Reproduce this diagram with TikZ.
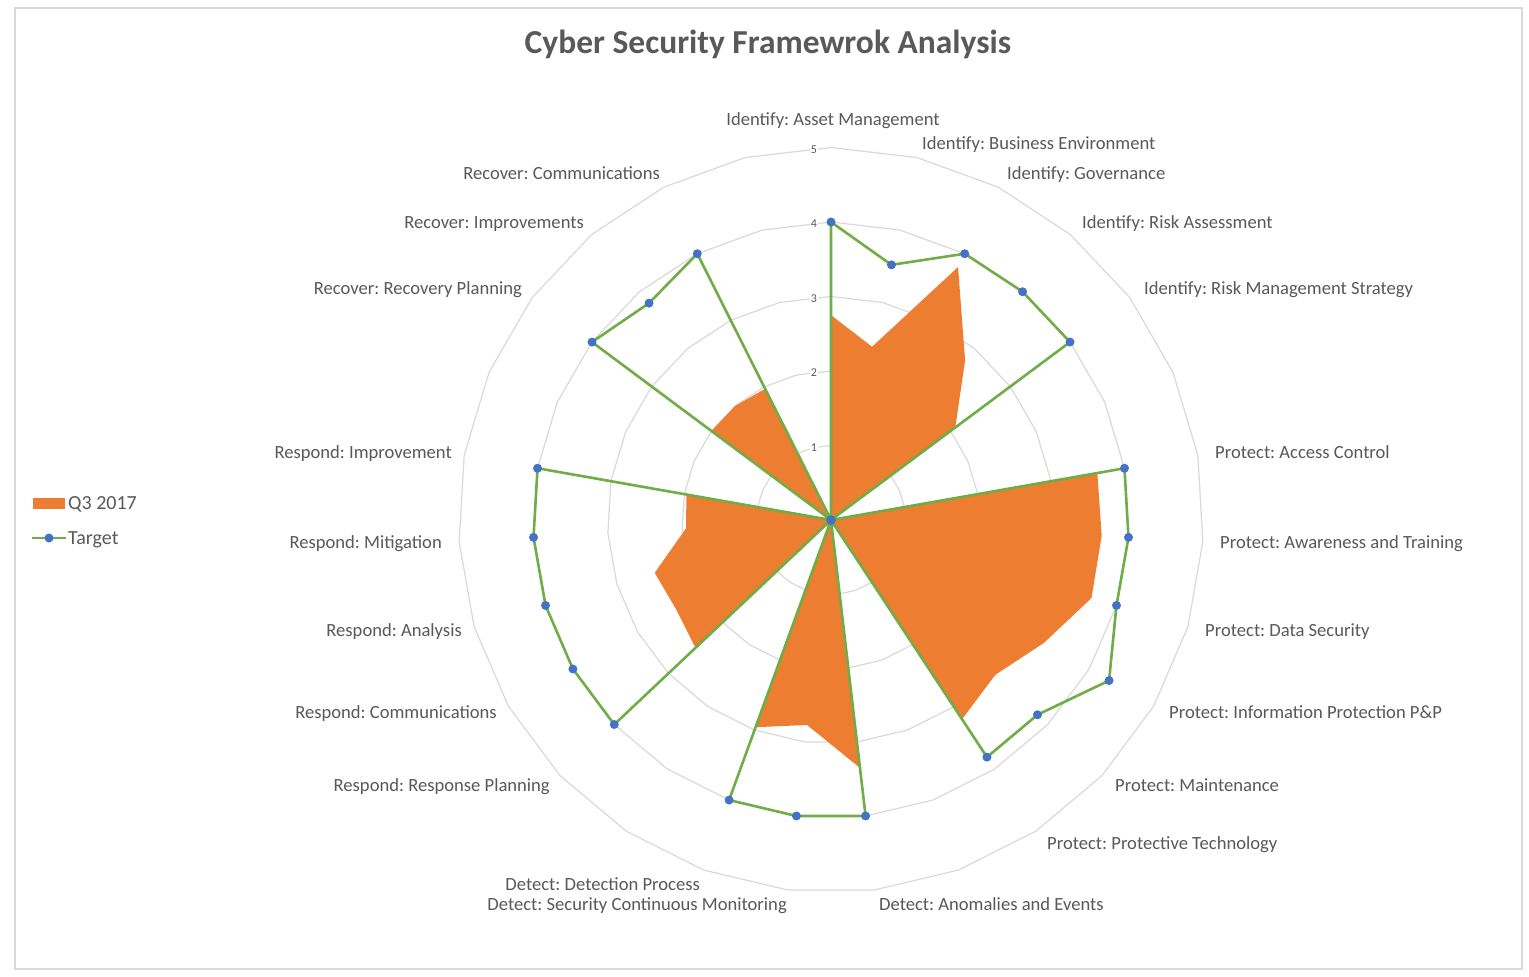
\documentclass[tikz,border=0pt]{standalone}
\usepackage{fontspec}
\setmainfont{Carlito}
\frenchspacing
\definecolor{gridc}{HTML}{D9D9D9}
\definecolor{txtc}{HTML}{595959}
\definecolor{q3c}{HTML}{ED7D31}
\definecolor{tgtc}{HTML}{70AD47}
\definecolor{mkc}{HTML}{4472C4}
\begin{document}
\begin{tikzpicture}[x=1pt,y=-1pt,
  gridline/.style={draw=gridc,line width=1.2pt},
  vlab/.style={font=\fontsize{12}{12}\selectfont,text=txtc,fill=white,inner sep=1pt},
  catlab/.style={font=\fontsize{18.6}{18}\selectfont,text=txtc,inner sep=0pt,text height=1.3ex,text depth=0.35ex,yshift=-4pt},
  leglab/.style={font=\fontsize{20}{20}\selectfont,text=txtc,inner sep=0pt,anchor=west,text height=1.3ex,text depth=0.35ex,yshift=-4pt},
  q3fill/.style={fill=q3c},
  tgtline/.style={draw=tgtc,line width=2.6pt,line join=round},
  marker/.style={fill=mkc},
  framebox/.style={draw=gridc,line width=1.5pt}]
\useasboundingbox[fill=white] (0,0) rectangle (1529,977);
\draw[framebox] (15,8) rectangle (1522,969);
% title
\node[font=\fontsize{33.5}{34}\selectfont\bfseries,text=txtc] (title) at (768,44) {Cyber Security Framewrok Analysis};
% grid rings
\foreach \k in {1,...,5}{
  \draw[gridline] (831,{520-74.5*\k}) \foreach \t in {1,...,26}{ -- ({831+74.5*\k*sin(\t*360/27)},{520-74.5*\k*cos(\t*360/27)}) } -- cycle;
}
\foreach \k in {0,...,5}{
  \node[vlab] (v\k) at (814,{522-74.5*\k}) {\k};
}
% data coordinates
\path \foreach \v [count=\i from 0] in {2.75,2.39,3.8,2.8,2.08,0,3.63,3.64,3.65,3.3,3.03,3.2,0,3.35,2.77,2.96,0,2.5,2.4,2.47,1.95,1.97,0,2,2,1.97,0}
  { coordinate (q\i) at ({831+74.5*\v*sin(\i*360/27)},{520-74.5*\v*cos(\i*360/27)}) };
\path \foreach \v [count=\i from 0] in {4,3.52,4,4,4,0,4,4,4,4.31,3.81,3.81,0,4,4,4,0,4,4,4,4,4,0,4,3.8,4,0}
  { coordinate (t\i) at ({831+74.5*\v*sin(\i*360/27)},{520-74.5*\v*cos(\i*360/27)}) };
\fill[q3fill] (q0) \foreach \i in {1,...,26}{ -- (q\i) } -- cycle;
\draw[tgtline] (t0) \foreach \i in {1,...,26}{ -- (t\i) } -- cycle;
\foreach \i in {0,...,26}{ \fill[marker] (t\i) circle (4.5); }
% category labels
\node[catlab,anchor=center] (c0) at (833,119) {Identify: Asset Management};
\node[catlab,anchor=west] (c1) at (922,143) {Identify: Business Environment};
\node[catlab,anchor=west] (c2) at (1007,173) {Identify: Governance};
\node[catlab,anchor=west] (c3) at (1082,222) {Identify: Risk Assessment};
\node[catlab,anchor=west] (c4) at (1144,288) {Identify: Risk Management Strategy};
\node[catlab,anchor=west] (c6) at (1215,452) {Protect: Access Control};
\node[catlab,anchor=west] (c7) at (1220,542) {Protect: Awareness and Training};
\node[catlab,anchor=west] (c8) at (1205,630) {Protect: Data Security};
\node[catlab,anchor=west] (c9) at (1169,712) {Protect: Information Protection P\&P};
\node[catlab,anchor=west] (c10) at (1115,785) {Protect: Maintenance};
\node[catlab,anchor=west] (c11) at (1047,843) {Protect: Protective Technology};
\node[catlab,anchor=west] (c13) at (879,904) {Detect: Anomalies and Events};
\node[catlab,anchor=east] (c14) at (787,904) {Detect: Security Continuous Monitoring};
\node[catlab,anchor=east] (c15) at (700,884) {Detect: Detection Process};
\node[catlab,anchor=east] (c17) at (550,785) {Respond: Response Planning};
\node[catlab,anchor=east] (c18) at (497,712) {Respond: Communications};
\node[catlab,anchor=east] (c19) at (462,630) {Respond: Analysis};
\node[catlab,anchor=east] (c20) at (442,542) {Respond: Mitigation};
\node[catlab,anchor=east] (c21) at (452,452) {Respond: Improvement};
\node[catlab,anchor=east] (c23) at (522,288) {Recover: Recovery Planning};
\node[catlab,anchor=east] (c24) at (584,222) {Recover: Improvements};
\node[catlab,anchor=east] (c25) at (660,173) {Recover: Communications};
% legend
\fill[q3fill] (33,498) rectangle (65,509);
\node[leglab] (lq3) at (68,503) {Q3 2017};
\coordinate (la) at (32,538);
\coordinate (lb) at (66,538);
\draw[draw=tgtc,line width=2.6pt] (la) -- (lb);
\fill[marker] (49,538) circle (4.5);
\node[leglab] (ltg) at (68,538) {Target};
\end{tikzpicture}
\end{document}
